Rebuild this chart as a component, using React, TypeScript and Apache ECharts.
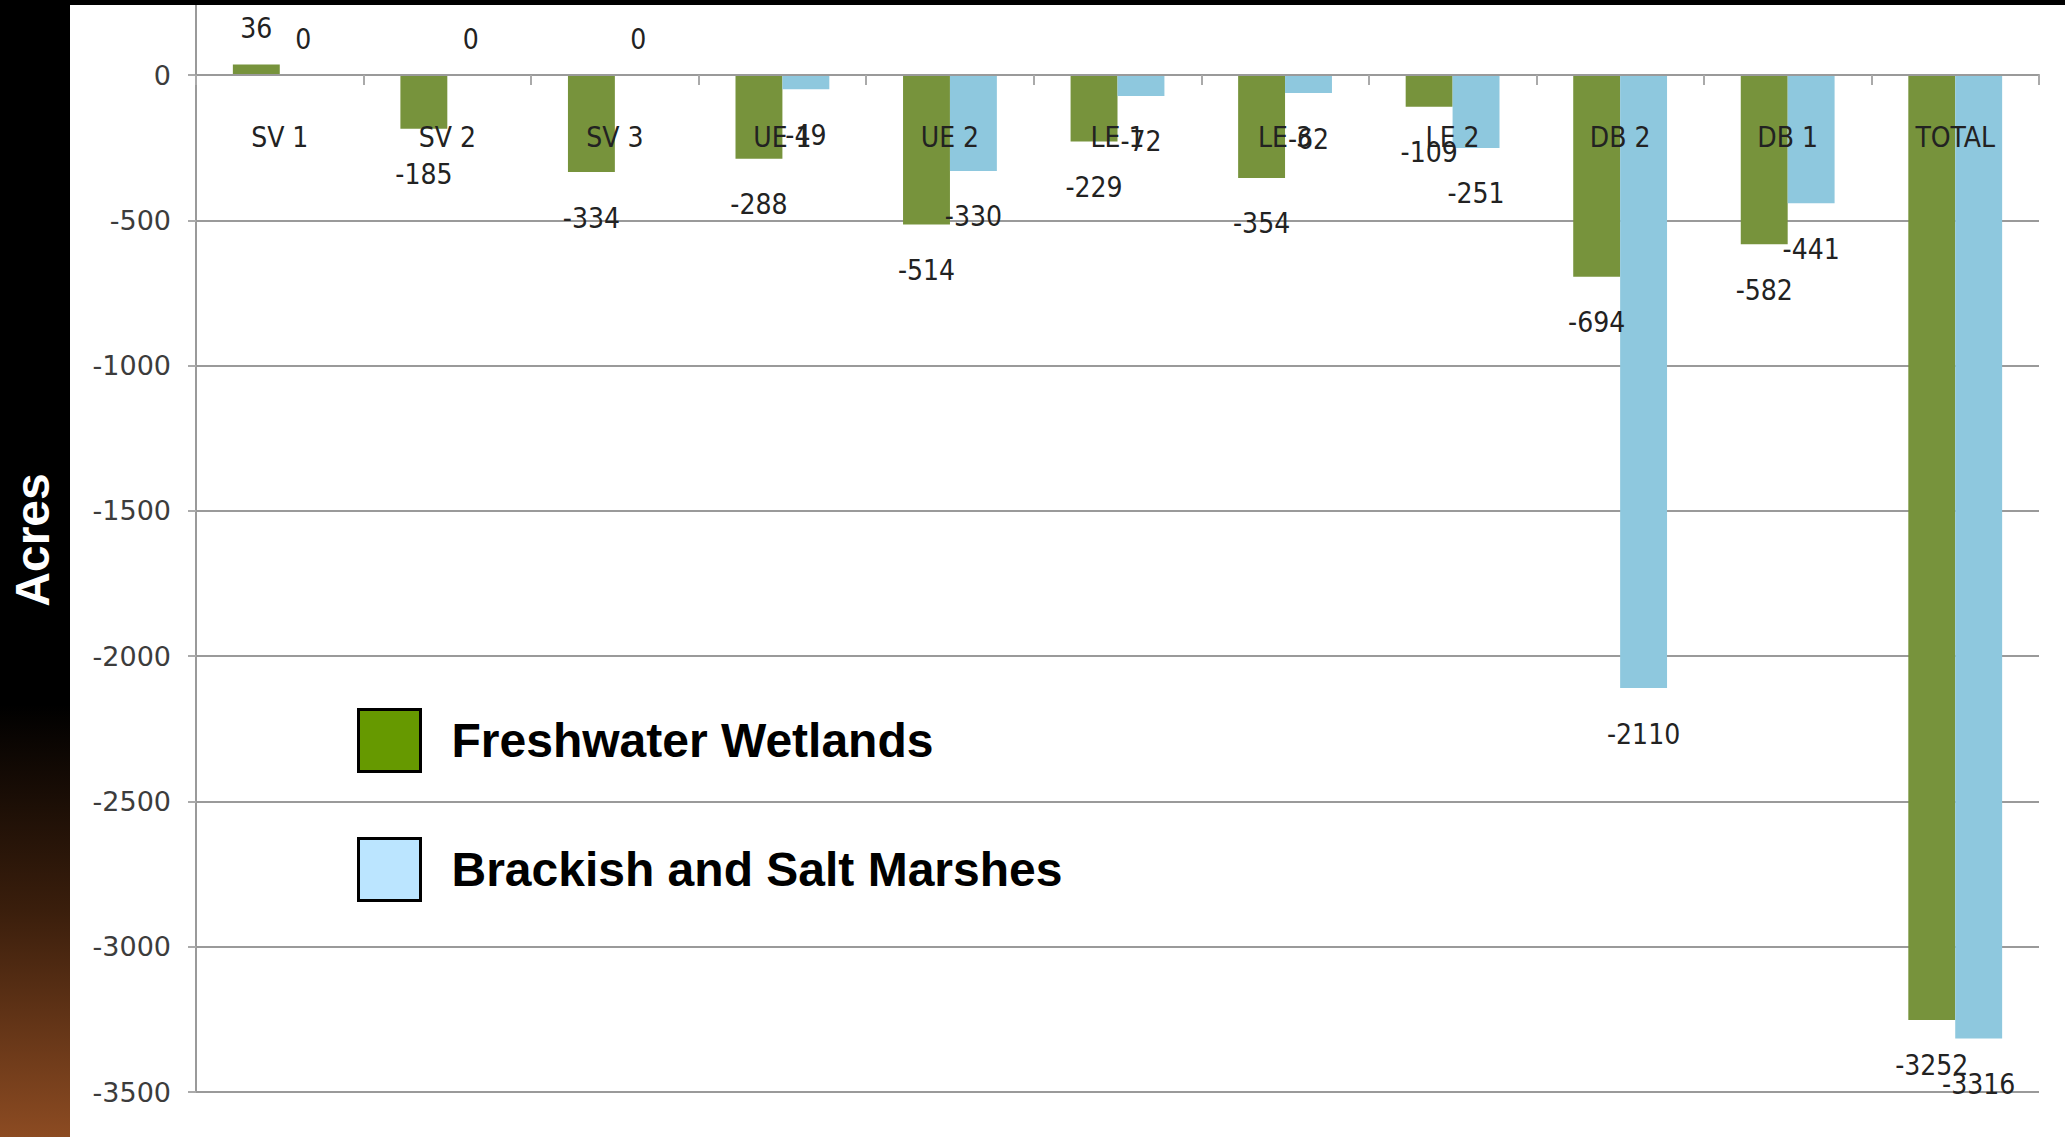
import React, { useEffect, useRef } from "react";
import * as echarts from "echarts";

const categories = ["SV 1", "SV 2", "SV 3", "UE 1", "UE 2", "LE 1", "LE 3", "LE 2", "DB 2", "DB 1", "TOTAL"];
const freshwater = [36, -185, -334, -288, -514, -229, -354, -109, -694, -582, -3252];
const brackish = [0, 0, 0, -49, -330, -72, -62, -251, -2110, -441, -3316];
const yTicks = { min: -3500, max: 241, interval: 500 };

const W = 2065;
const H = 1137;
const condensed = '"DejaVu Sans Condensed", Roboto, sans-serif';

function labelled(values: number[]) {
  return values.map((v) => ({
    value: v,
    label: v < 0 ? { position: "bottom", distance: 32 } : { position: "top", distance: 22 },
  }));
}

export default function App() {
  const ref = useRef<HTMLDivElement>(null);
  useEffect(() => {
    document.body.style.margin = "0";
    const chart = echarts.init(ref.current!, undefined, { renderer: "svg" });
    const labelStyle = {
      show: true,
      color: "#222",
      fontFamily: condensed,
      fontSize: 28,
    };
    chart.setOption({
      animation: false,
      backgroundColor: "#ffffff",
      grid: { left: 196, right: 26, top: 5, bottom: 45, containLabel: false },
      xAxis: [
        {
          type: "category",
          data: categories,
          z: 10,
          axisLine: { onZero: true, lineStyle: { color: "#9a9a9a", width: 2 } },
          axisTick: { show: true, length: 10, lineStyle: { color: "#aaa", width: 2 } },
          axisLabel: { show: false },
        },
        {
          type: "category",
          data: categories,
          position: "top",
          z: 10,
          axisLine: { show: false },
          axisTick: { show: false },
          axisLabel: {
            inside: true,
            interval: 0,
            margin: 118,
            color: "#222",
            fontFamily: condensed,
            fontSize: 28,
          },
        },
      ],
      yAxis: {
        type: "value",
        min: yTicks.min,
        max: yTicks.max,
        interval: yTicks.interval,
        axisLine: { show: true, lineStyle: { color: "#9a9a9a", width: 2 } },
        axisTick: { show: true, length: 8, lineStyle: { color: "#aaa", width: 2 } },
        axisLabel: {
          showMaxLabel: false,
          margin: 25,
          color: "#3c3c3c",
          fontFamily: '"DejaVu Sans", Verdana, sans-serif',
          fontSize: 27,
          formatter: (v: number) => String(v),
        },
        splitLine: { show: true, showMaxLine: false, lineStyle: { color: "#9a9a9a", width: 2 } },
      },
      legend: {
        left: 352,
        top: 703,
        orient: "vertical",
        itemWidth: 62,
        itemHeight: 62,
        itemGap: 64,
        icon: "rect",
        textStyle: {
          color: "#000",
          fontFamily: '"Liberation Sans", Arial, sans-serif',
          fontWeight: "bold",
          fontSize: 48,
          padding: [0, 0, 0, 26],
        },
        data: [
          { name: "Freshwater Wetlands", itemStyle: { color: "#669900", borderColor: "#000", borderWidth: 3 } },
          { name: "Brackish and Salt Marshes", itemStyle: { color: "#BBE5FF", borderColor: "#000", borderWidth: 3 } },
        ],
      },
      series: [
        {
          name: "Freshwater Wetlands",
          type: "bar",
          data: labelled(freshwater),
          itemStyle: { color: "#77933C" },
          barGap: "0%",
          barCategoryGap: "44%",
          label: labelStyle,
        },
        {
          name: "Brackish and Salt Marshes",
          type: "bar",
          data: labelled(brackish),
          itemStyle: { color: "#8EC8DE" },
          barGap: "0%",
          barCategoryGap: "44%",
          label: labelStyle,
        },
      ],
      graphic: [
        { type: "rect", silent: true, z: 100, shape: { x: 0, y: 0, width: W, height: 5 }, style: { fill: "#000" } },
        {
          type: "rect",
          silent: true,
          z: 100,
          shape: { x: 0, y: 0, width: 70, height: H },
          style: {
            fill: new echarts.graphic.LinearGradient(0, 0, 0, 1, [
              { offset: 0, color: "#000000" },
              { offset: 0.62, color: "#000000" },
              { offset: 0.8, color: "#3a1e0c" },
              { offset: 1, color: "#8c4b22" },
            ]),
          },
        },
        {
          type: "text",
          silent: true,
          z: 101,
          x: 32,
          y: 540,
          rotation: Math.PI / 2,
          style: {
            text: "Acres",
            fill: "#fff",
            font: 'bold 48px "Liberation Sans", Arial, sans-serif',
            textAlign: "center",
            textVerticalAlign: "middle",
          },
        },
      ],
    });
    return () => chart.dispose();
  }, []);
  return <div ref={ref} style={{ width: W, height: H }} />;
}
